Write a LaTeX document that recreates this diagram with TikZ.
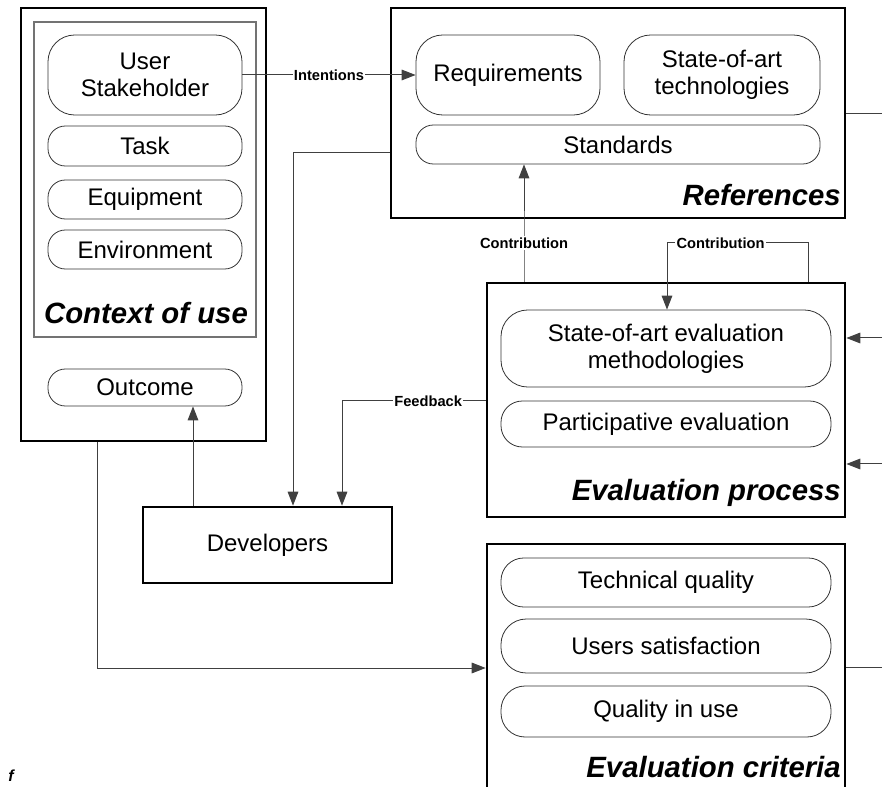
\documentclass[tikz,border=0pt]{standalone}
\usepackage{fontspec}
\setmainfont{Liberation Sans}
\usetikzlibrary{arrows.meta}
\tikzset{
  panel/.style={draw=black, line width=2pt, minimum width=#1, inner sep=0pt},
  innerpanel/.style={draw=black!55, line width=0.8pt, inner sep=0pt},
  pill/.style={draw=black!80, line width=0.6pt, rounded corners=#1, inner sep=0pt,
    align=center, font=\fontsize{18}{20}\selectfont},
  pill/.default=13pt,
  heading/.style={font=\fontsize{22}{24}\selectfont\bfseries\itshape, inner sep=0pt},
  conn/.style={draw=black!75, line width=0.75pt},
  tip/.style={-{Triangle[length=10.5pt,width=8pt]}},
  tag/.style={font=\fontsize{11}{12}\selectfont\bfseries, fill=white, inner sep=1pt}
}
\begin{document}
\begin{tikzpicture}[x=0.75pt, y=-0.75pt]
\useasboundingbox (0,0) rectangle (882,787);
\clip (0,0) rectangle (882,787);

% ---- Context of use ----
\node[panel=245*0.75pt, minimum height=433*0.75pt] (ctx) at (143.5,224.5) {};
\node[innerpanel, minimum width=222*0.75pt, minimum height=315*0.75pt] (ctxin) at (145,179.5) {};
\node[pill=20pt, minimum width=194*0.75pt, minimum height=80*0.75pt] (user) at (145,75) {User\\Stakeholder};
\node[pill, minimum width=194*0.75pt, minimum height=40*0.75pt] (task) at (145,146) {Task};
\node[pill, minimum width=194*0.75pt, minimum height=39*0.75pt] (equip) at (145,199.5) {Equipment};
\node[pill, minimum width=194*0.75pt, minimum height=39*0.75pt] (env) at (145,249.5) {Environment};
\node[heading] (ctxt) at (146,313) {Context of use};
\node[pill, minimum width=194*0.75pt, minimum height=37*0.75pt] (outc) at (145,387.5) {Outcome};

% ---- References ----
\node[panel=454*0.75pt, minimum height=210*0.75pt] (refs) at (618,113) {};
\node[pill=20pt, minimum width=184*0.75pt, minimum height=80*0.75pt] (req) at (508,75) {Requirements};
\node[pill=20pt, minimum width=196*0.75pt, minimum height=80*0.75pt] (tech) at (722,75) {State-of-art\\technologies};
\node[pill, minimum width=404*0.75pt, minimum height=39*0.75pt] (std) at (618,144.5) {Standards};
\node[heading, anchor=east] (refst) at (841,195) {References};

% ---- Evaluation process ----
\node[panel=358*0.75pt, minimum height=234*0.75pt] (eval) at (666,400) {};
\node[pill=20pt, minimum width=330*0.75pt, minimum height=77*0.75pt] (meth) at (666,348.5) {State-of-art evaluation\\methodologies};
\node[pill=16pt, minimum width=330*0.75pt, minimum height=46*0.75pt] (part) at (666,424) {Participative evaluation};
\node[heading, anchor=east] (evalt) at (841,493) {Evaluation process};

% ---- Developers ----
\node[panel=249*0.75pt, minimum height=76*0.75pt, font=\fontsize{18}{20}\selectfont] (dev) at (267.5,545) {Developers};

% ---- Evaluation criteria ----
\node[panel=358*0.75pt, minimum height=256*0.75pt] (crit) at (666,672) {};
\node[pill=17pt, minimum width=330*0.75pt, minimum height=49*0.75pt] (tq) at (666,582.5) {Technical quality};
\node[pill=19pt, minimum width=330*0.75pt, minimum height=54*0.75pt] (us) at (666,646) {Users satisfaction};
\node[pill=18pt, minimum width=330*0.75pt, minimum height=51*0.75pt] (qu) at (666,711.5) {Quality in use};
\node[heading, anchor=east] (critt) at (841,767) {Evaluation criteria};

% ---- bends and free ends of connectors ----
\coordinate (bStd) at (293,153);
\coordinate (bFb) at (342,401);
\coordinate (bC1) at (524,243);
\coordinate (bC2r) at (808,243);
\coordinate (bC2l) at (667,243);
\coordinate (bOut) at (193,0);
\coordinate (bCtx) at (97,668);
\coordinate (eRefs) at (882,114);
\coordinate (eEv1) at (882,338);
\coordinate (eEv2) at (882,464);
\coordinate (eCrit) at (882,667);

% ---- connectors ----
\draw[conn, tip] (user.east) -- node[tag] {Intentions} (req.west);
\draw[conn, tip] (refs.west |- bStd) -- (bStd) -- (bStd |- dev.north);
\draw[conn, tip] (eval.west |- bFb) -- node[tag, pos=0.4] {Feedback} (bFb) -- (bFb |- dev.north);
\draw[conn, tip] (bC1 |- eval.north) -- (bC1) node[tag] {Contribution} -- (bC1 |- std.south);
\draw[conn, tip] (bC2r |- eval.north) -- (bC2r) -- node[tag, pos=0.62] {Contribution} (bC2l) -- (bC2l |- meth.north);
\draw[conn, tip] (bOut |- dev.north) -- (bOut |- outc.south);
\draw[conn, tip] (bCtx |- ctx.south) -- (bCtx) -- (bCtx -| crit.west);
\draw[conn] (refs.east |- eRefs) -- (eRefs);
\draw[conn, tip] (eEv1) -- (eEv1 -| eval.east);
\draw[conn, tip] (eEv2) -- (eEv2 -| eval.east);
\draw[conn] (crit.east |- eCrit) -- (eCrit);

% ---- text at the lower edge ----
\node[font=\fontsize{12}{14}\selectfont\bfseries\itshape, anchor=north west, inner sep=0pt] (frag) at (8,770) {f};
\end{tikzpicture}
\end{document}
